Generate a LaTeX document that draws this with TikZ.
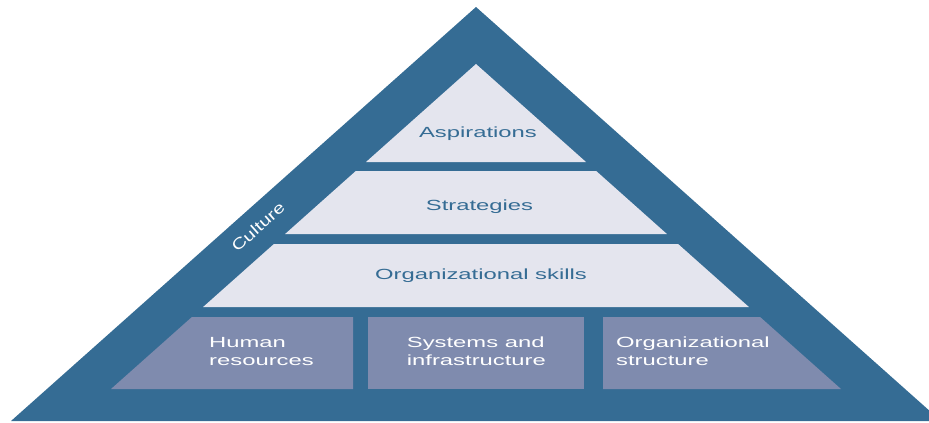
\documentclass[tikz,border=0pt]{standalone}
\usepackage{fontspec}
\usepackage{tikz}
\newfontfamily\pyrfont[FakeStretch=1.62]{Liberation Sans}
\newfontfamily\culturefont[FakeStretch=1.3]{Liberation Sans}
\definecolor{cb}{HTML}{356C94}
\definecolor{lp}{HTML}{E4E5EE}
\definecolor{bp}{HTML}{7F8BAE}
\tikzstyle{layer}=[fill=lp]
\tikzstyle{block}=[fill=bp]
\tikzstyle{lbl}=[inner sep=0pt,anchor=base,text=cb,font=\pyrfont\fontsize{14.7}{17.3}\selectfont]
\tikzstyle{blocklbl}=[lbl,anchor=base west,align=left,text=white]

\begin{document}
\begin{tikzpicture}[x=1pt,y=-1pt]

				\useasboundingbox (0,0) rectangle (929,423);
				\clip (0,0) rectangle (929,423);

				% outer band
				\fill[cb] (476,7) -- (11,421) -- (941,421) -- cycle;

				% light layers
				\fill[layer] (476,64) -- (366,162) -- (586,162) -- cycle;
				\fill[layer] (355.8,171) -- (596.2,171) -- (666.9,234) -- (285.1,234) -- cycle;
				\fill[layer] (273.9,244) -- (678.1,244) -- (748.9,307) -- (203.1,307) -- cycle;

				% bottom row
				\fill[block] (191.9,317) -- (353,317) -- (353,389) -- (111,389) -- cycle;
				\fill[block] (368,317) rectangle (584,389);
				\fill[block] (603,317) -- (760.1,317) -- (841,389) -- (603,389) -- cycle;

				\draw  node [lbl] at (478,137) (asp) {Aspirations};
				\draw  node [lbl] at (479.5,210) (str) {Strategies};
				\draw  node [lbl] at (481,279.3) (skl) {Organizational skills};

				% base is the last line here
				\draw  node [blocklbl] at (209,365) (hr) {Human\\resources};
				\draw  node [blocklbl] at (406.7,365) (sys) {Systems and\\infrastructure};
				\draw  node [blocklbl] at (616,365) (ost) {Organizational\\structure};

				\draw  node [inner sep=0pt,text=white,rotate=41.7,font=\culturefont\fontsize{15.5}{17}\selectfont] at (258,227) (cul) {Culture};
\end{tikzpicture}
\end{document}
